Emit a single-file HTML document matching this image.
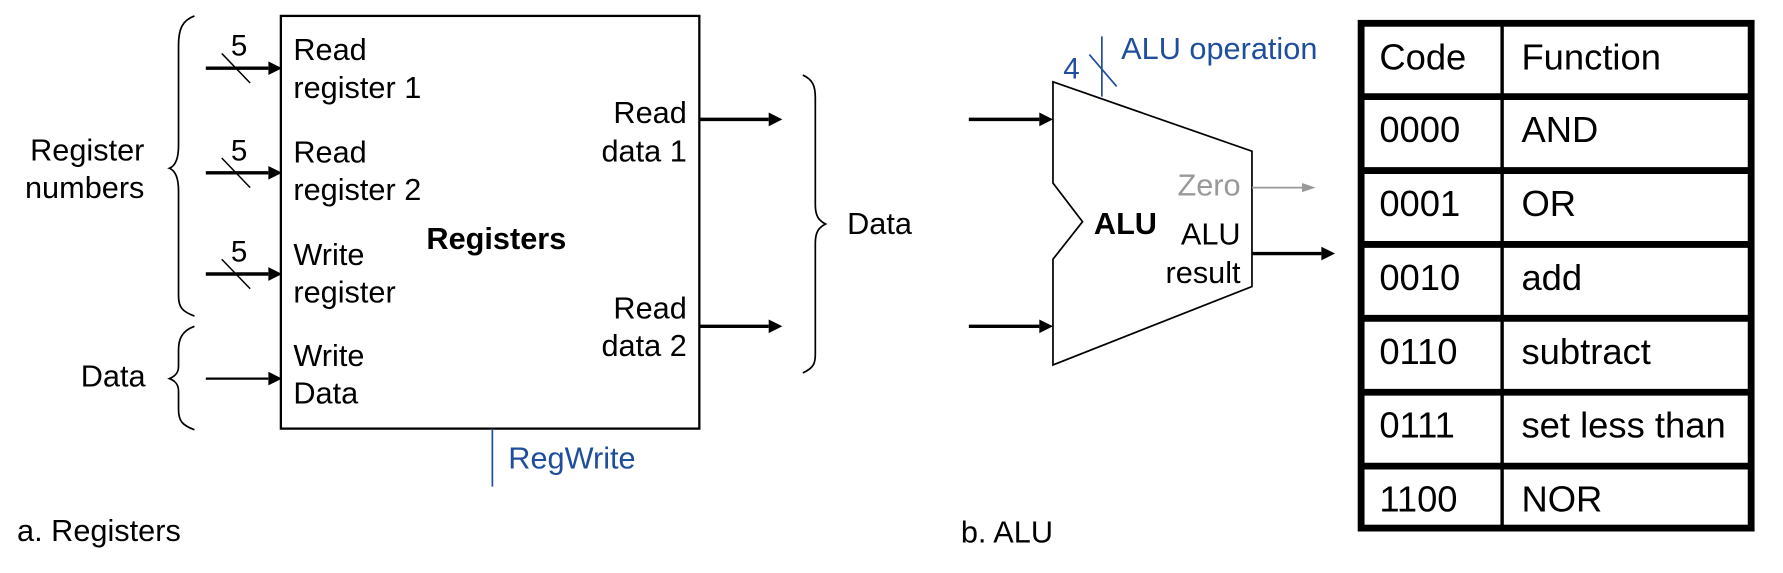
<!DOCTYPE html>
<html><head><meta charset="utf-8"><style>
html,body{margin:0;padding:0;background:#fff;}
svg{display:block;}
text{font-family:"Liberation Sans",Arial,sans-serif;fill:#000;}
.b{fill:#1f4e9a;}
</style></head><body>
<svg width="1783" height="573" viewBox="0 0 1568 504" preserveAspectRatio="none">
<g font-size="27">
<rect x="247" y="14" width="368" height="363" fill="none" stroke="#000" stroke-width="2"/>
<g stroke="#000" stroke-width="3">
<line x1="181" y1="60" x2="236" y2="60"/><path d="M236,54 L248,60 L236,66z" fill="#000" stroke="none"/>
<line x1="181" y1="152" x2="236" y2="152"/><path d="M236,146 L248,152 L236,158z" fill="#000" stroke="none"/>
<line x1="181" y1="241" x2="236" y2="241"/><path d="M236,235 L248,241 L236,247z" fill="#000" stroke="none"/>
<line x1="181" y1="333" x2="236" y2="333" stroke-width="2"/><path d="M236,327 L248,333 L236,339z" fill="#000" stroke="none"/>
</g>
<g stroke="#000" stroke-width="1.3">
<line x1="195" y1="47" x2="220" y2="73"/>
<line x1="195" y1="139" x2="220" y2="165"/>
<line x1="195" y1="228" x2="220" y2="254"/>
</g>
<text x="203" y="49" font-size="26">5</text>
<text x="203" y="141" font-size="26">5</text>
<text x="203" y="230" font-size="26">5</text>
<text x="258" y="53">Read</text>
<text x="258" y="86">register 1</text>
<text x="258" y="143">Read</text>
<text x="258" y="176">register 2</text>
<text x="258" y="233">Write</text>
<text x="258" y="266">register</text>
<text x="258" y="322">Write</text>
<text x="258" y="355">Data</text>
<text x="375" y="219" font-weight="bold">Registers</text>
<text x="604" y="108" text-anchor="end">Read</text>
<text x="604" y="142" text-anchor="end">data 1</text>
<text x="604" y="280" text-anchor="end">Read</text>
<text x="604" y="313" text-anchor="end">data 2</text>
<g stroke="#000" stroke-width="3">
<line x1="615" y1="105" x2="676" y2="105"/><path d="M676,99 L688,105 L676,111z" fill="#000" stroke="none"/>
<line x1="615" y1="287" x2="676" y2="287"/><path d="M676,281 L688,287 L676,293z" fill="#000" stroke="none"/>
</g>
<g fill="none" stroke="#000" stroke-width="1.5">
<path d="M171,14 C160,18 157,26 157,40 L157,128 C157,140 154,146 149,148 C154,150 157,156 157,168 L157,260 C157,270 160,274 171,278"/>
<path d="M171,287 C160,291 157,298 157,308 L157,322 C157,328 154,331 149,333 C154,335 157,338 157,344 L157,360 C157,370 160,374 171,378"/>
<path d="M706,66 C715,70 717,76 717,86 L717,180 C717,190 720,194 726,197 C720,200 717,204 717,214 L717,312 C717,320 715,324 706,328"/>
</g>
<text x="127" y="141" text-anchor="end">Register</text>
<text x="127" y="174" text-anchor="end">numbers</text>
<text x="128" y="340" text-anchor="end">Data</text>
<text x="745" y="206">Data</text>
<line x1="433" y1="377" x2="433" y2="428" stroke="#1f4e9a" stroke-width="1.5"/>
<text x="447" y="412" class="b">RegWrite</text>
<text x="15" y="476">a. Registers</text>
</g>
<g font-size="27">
<polygon points="926,72 1101,133 1101,252 926,321 926,228 952,195 926,161" fill="none" stroke="#000" stroke-width="1.5"/>
<g stroke="#000" stroke-width="3">
<line x1="852" y1="105" x2="914" y2="105"/><path d="M914,99 L926,105 L914,111z" fill="#000" stroke="none"/>
<line x1="852" y1="287" x2="914" y2="287"/><path d="M914,281 L926,287 L914,293z" fill="#000" stroke="none"/>
<line x1="1101" y1="223" x2="1162" y2="223"/><path d="M1162,217 L1174,223 L1162,229z" fill="#000" stroke="none"/>
</g>
<line x1="1101" y1="165" x2="1146" y2="165" stroke="#999" stroke-width="1.5"/>
<path d="M1145,161 L1157,165 L1145,169z" fill="#999"/>
<text x="1091" y="172" text-anchor="end" style="fill:#999">Zero</text>
<text x="962" y="206" font-weight="bold">ALU</text>
<text x="1091" y="215" text-anchor="end">ALU</text>
<text x="1091" y="249" text-anchor="end">result</text>
<line x1="969" y1="32" x2="969" y2="85" stroke="#1f4e9a" stroke-width="1.5"/>
<line x1="958" y1="48" x2="982" y2="76" stroke="#1f4e9a" stroke-width="1.5"/>
<text x="935" y="69" class="b" font-size="26">4</text>
<text x="986" y="52" class="b">ALU operation</text>
<text x="845" y="477">b. ALU</text>
</g>
<g font-size="32">
<rect x="1197" y="20.5" width="343" height="444" fill="none" stroke="#000" stroke-width="6"/>
<line x1="1321" y1="20" x2="1321" y2="465" stroke="#000" stroke-width="3"/>
<g stroke="#000" stroke-width="6">
<line x1="1197" y1="85" x2="1540" y2="85"/>
<line x1="1197" y1="150" x2="1540" y2="150"/>
<line x1="1197" y1="215" x2="1540" y2="215"/>
<line x1="1197" y1="280" x2="1540" y2="280"/>
<line x1="1197" y1="345" x2="1540" y2="345"/>
<line x1="1197" y1="410" x2="1540" y2="410"/>
</g>
<text x="1213" y="61">Code</text>
<text x="1338" y="61">Function</text>
<text x="1213" y="125">0000</text>
<text x="1338" y="125">AND</text>
<text x="1213" y="190">0001</text>
<text x="1338" y="190">OR</text>
<text x="1213" y="255">0010</text>
<text x="1338" y="255">add</text>
<text x="1213" y="320">0110</text>
<text x="1338" y="320">subtract</text>
<text x="1213" y="385">0111</text>
<text x="1338" y="385">set less than</text>
<text x="1213" y="450">1100</text>
<text x="1338" y="450">NOR</text>
</g>
</svg>
</body></html>
